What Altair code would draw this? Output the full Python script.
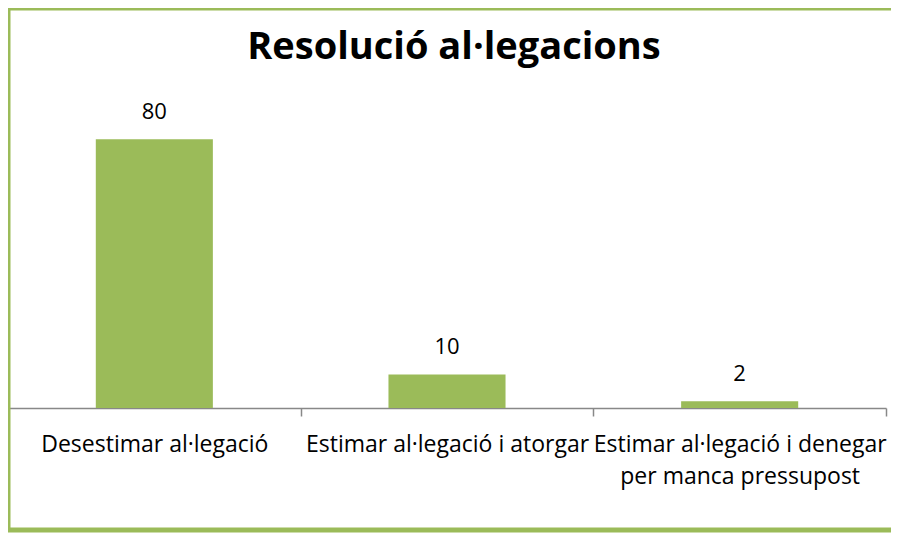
import altair as alt
import pandas as pd

categories = [
    "Desestimar al·legació",
    "Estimar al·legació i atorgar",
    "Estimar al·legació i denegar\nper manca pressupost",
]
values = [80, 10, 2]
title_text = ["Resolució al·legacions"]

GREEN = "#9BBB59"
FONT = "Open Sans"

df = pd.DataFrame({"cat": categories, "val": values})

base = alt.Chart(df).encode(
    x=alt.X(
        "cat:N",
        sort=None,
        scale=alt.Scale(paddingInner=0, paddingOuter=0),
        axis=alt.Axis(
            title=None,
            labelAngle=0,
            tickBand="extent",
            tickSize=8,
            tickWidth=1.5,
            tickColor="#888888",
            domainColor="#888888",
            domainWidth=1.5,
            labelFont=FONT,
            labelFontSize=23,
            labelColor="#000000",
            labelPadding=35,
            labelBaseline="alphabetic",
            labelLineHeight=32,
            labelLimit=0,
            labelExpr="split(datum.label, '\\n')",
            grid=False,
        ),
    ),
    y=alt.Y("val:Q", axis=None, scale=alt.Scale(domain=[0, 100], nice=False)),
)

bars = base.mark_bar(color=GREEN, width=alt.RelativeBandSize(0.4))
labels = base.mark_text(
    dy=-20, baseline="alphabetic", font=FONT, fontSize=22, color="#000000"
).encode(text="val:Q")

one = pd.DataFrame({"t": title_text})

title = alt.Chart(one).mark_text(
    font=FONT, fontSize=38, fontWeight="bold", color="#000000",
    align="center", baseline="alphabetic",
).encode(text="t:N", x=alt.value(446), y=alt.value(-13))

edge = alt.Chart(one).mark_rule(color=GREEN, strokeWidth=5)
top_edge = edge.encode(x=alt.value(-3), x2=alt.value(900), y=alt.value(-64))
left_edge = edge.encode(x=alt.value(0), y=alt.value(-66), y2=alt.value(460))
bottom_edge = edge.encode(x=alt.value(-3), x2=alt.value(900), y=alt.value(458))

chart = (
    alt.layer(top_edge, left_edge, bottom_edge, bars, labels, title)
    .properties(
        width=878,
        height=336,
        autosize=alt.AutoSizeParams(type="none"),
        padding={"left": 0, "top": 64, "right": 5, "bottom": 125},
        background="white",
    )
    .configure_view(strokeWidth=0)
)

chart.save("out.html", embed_options={"renderer": "svg", "actions": False})
